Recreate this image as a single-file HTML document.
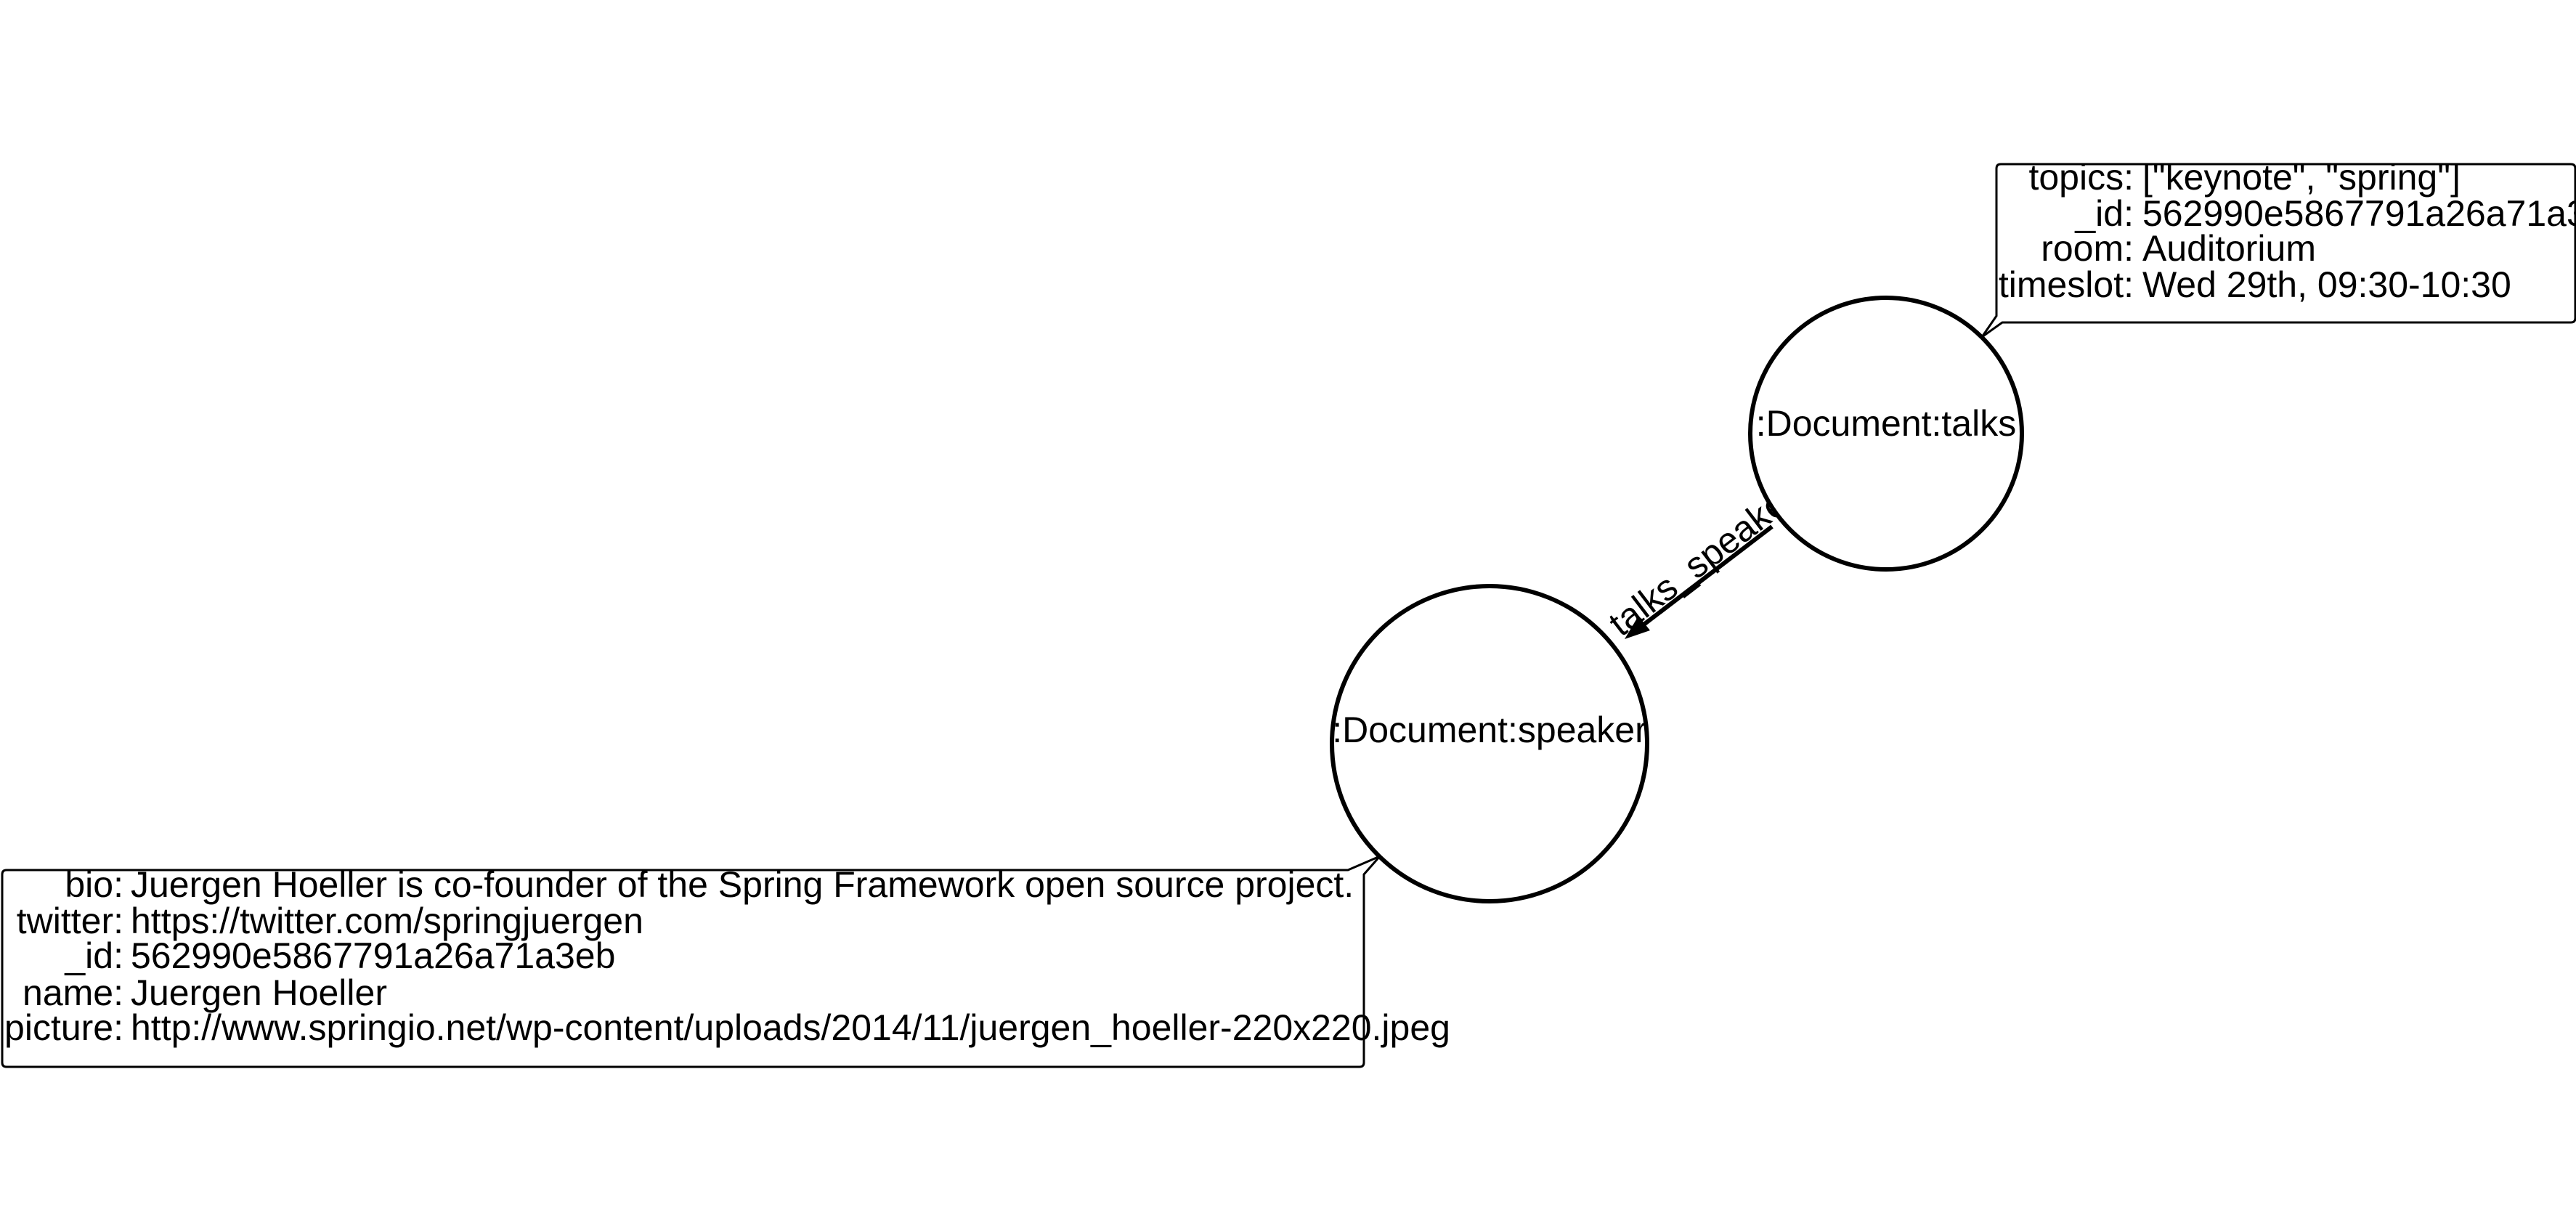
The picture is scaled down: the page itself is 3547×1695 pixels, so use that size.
<!DOCTYPE html>
<html><head><meta charset="utf-8"><style>
html,body{margin:0;padding:0;background:#fff;width:3547px;height:1695px;overflow:hidden}
svg{display:block}
text{font-family:"Liberation Sans",Arial,sans-serif;font-size:50px;fill:#000}
</style></head><body>
<svg width="3547" height="1695" viewBox="0 0 3547 1695" xmlns="http://www.w3.org/2000/svg">
<!-- edge -->
<line x1="2440" y1="725" x2="2262" y2="861" stroke="#000" stroke-width="6"/>
<polygon points="2237,880 2256,848 2272,868" fill="#000"/>
<text x="2232" y="878" transform="rotate(-37.4 2232 878)">talks_speaker</text>
<!-- talks circle -->
<circle cx="2597" cy="597" r="187" fill="#fff" stroke="#000" stroke-width="6"/>
<text x="2597" y="587" text-anchor="middle" dominant-baseline="middle">:Document:talks</text>
<!-- speaker circle -->
<circle cx="2051" cy="1024" r="217" fill="#fff" stroke="#000" stroke-width="6"/>
<text x="2051" y="1009" text-anchor="middle" dominant-baseline="middle">:Document:speaker</text>
<!-- talks box -->
<path d="M2755,226 H3540 Q3546,226 3546,232 V438 Q3546,444 3540,444 H2757 L2729,464 L2749,435 V232 Q2749,226 2755,226 Z" fill="#fff" stroke="#000" stroke-width="3"/>
<g text-anchor="end">
<text x="2938" y="261">topics:</text>
<text x="2938" y="311">_id:</text>
<text x="2938" y="359">room:</text>
<text x="2938" y="409">timeslot:</text>
</g>
<text x="2950" y="261">["keynote", "spring"]</text>
<text x="2950" y="311">562990e5867791a26a71a3ea</text>
<text x="2950" y="359">Auditorium</text>
<text x="2950" y="409">Wed 29th, 09:30-10:30</text>
<!-- speaker box -->
<path d="M9,1198 H1856 L1900,1179 L1878,1204 V1463 Q1878,1469 1872,1469 H9 Q3,1469 3,1463 V1204 Q3,1198 9,1198 Z" fill="#fff" stroke="#000" stroke-width="3"/>
<g text-anchor="end">
<text x="170" y="1235">bio:</text>
<text x="170" y="1285">twitter:</text>
<text x="170" y="1333">_id:</text>
<text x="170" y="1384">name:</text>
<text x="170" y="1432">picture:</text>
</g>
<text x="180" y="1235">Juergen Hoeller is co-founder of the Spring Framework open source project.</text>
<text x="180" y="1285">https://twitter.com/springjuergen</text>
<text x="180" y="1333">562990e5867791a26a71a3eb</text>
<text x="180" y="1384">Juergen Hoeller</text>
<text x="180" y="1432">http://www.springio.net/wp-content/uploads/2014/11/juergen_hoeller-220x220.jpeg</text>
</svg>
</body></html>
